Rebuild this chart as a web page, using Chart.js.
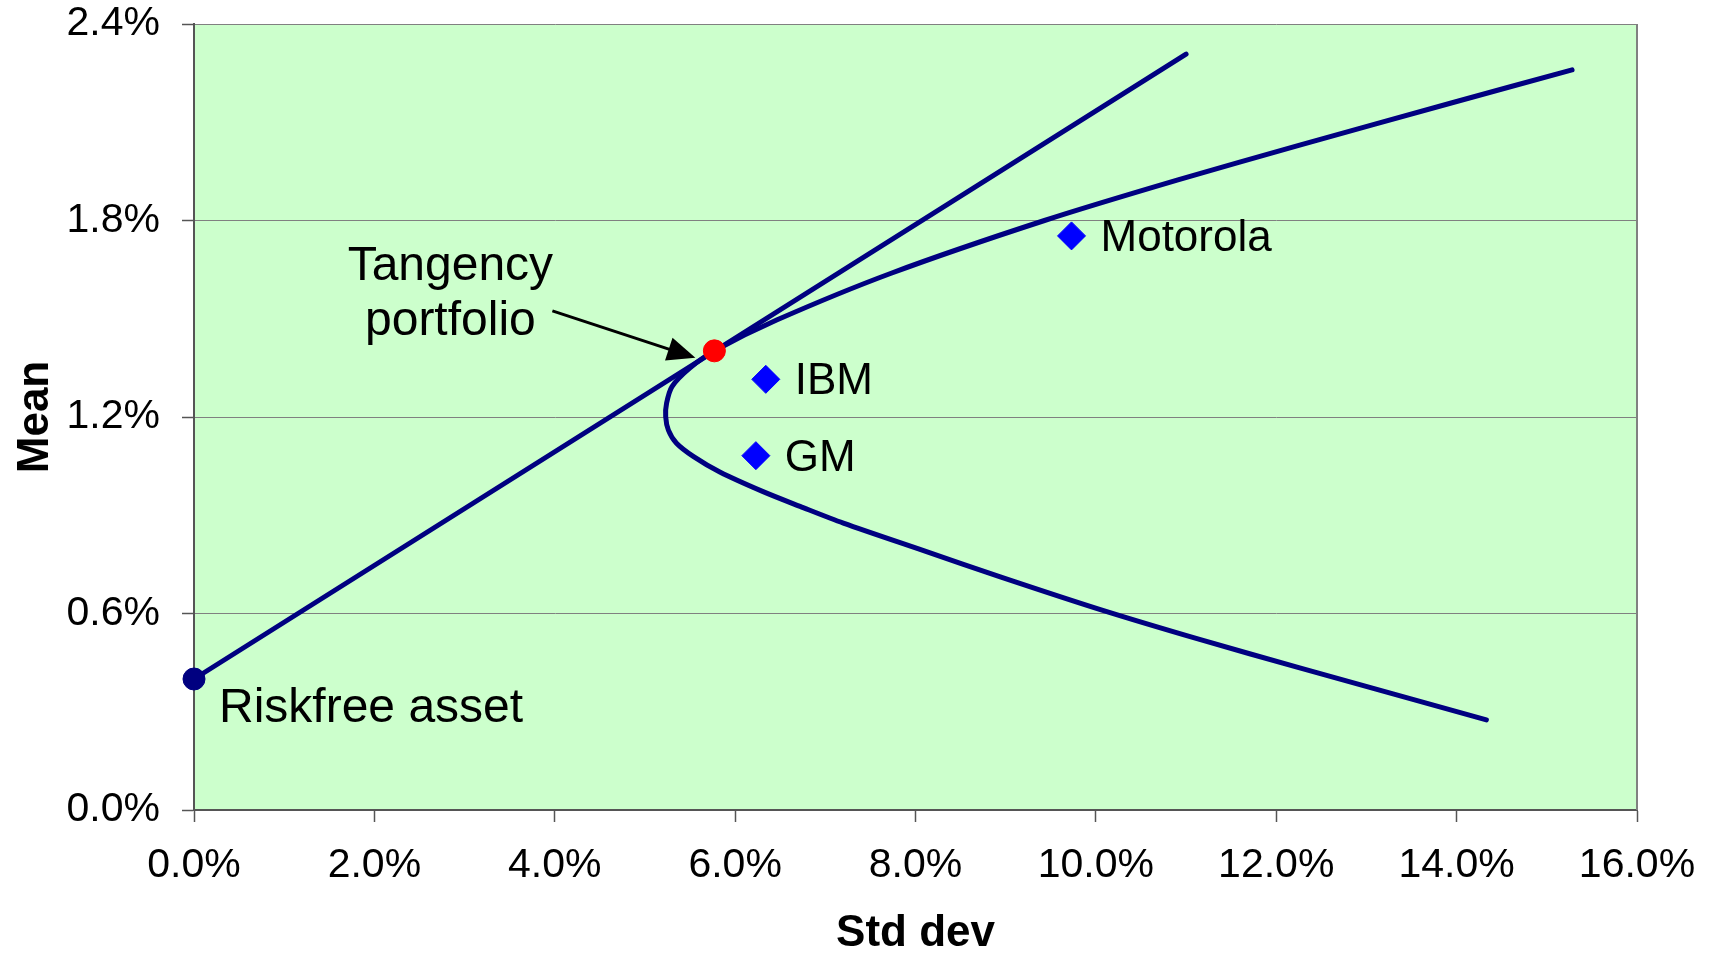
<!DOCTYPE html>
<html>
<head>
<meta charset="utf-8">
<script src="https://cdn.jsdelivr.net/npm/chart.js@4"></script>
<style>
  html, body { margin: 0; padding: 0; background: #ffffff; }
  #wrap { width: 1711px; height: 956px; }
</style>
</head>
<body>
<div id="wrap"><canvas id="chart" width="1711" height="956"></canvas></div>
<script>
// frontier of risky portfolios (std dev %, mean %), lower end -> upper end
const frontierStd  = [14.33, 12.26, 11.15, 10.05, 8.94, 8.09, 7.20, 6.72, 6.31, 5.83, 5.54, 5.35, 5.26, 5.23, 5.24, 5.30, 5.50, 5.77, 6.46, 7.73, 9.43, 10.91, 12.26, 13.93, 15.28];
const frontierMean = [0.275, 0.434, 0.521, 0.612, 0.712, 0.792, 0.876, 0.927, 0.972, 1.032, 1.079, 1.120, 1.160, 1.201, 1.242, 1.293, 1.350, 1.402, 1.496, 1.639, 1.800, 1.924, 2.030, 2.158, 2.260];

// capital market line
const cmlStd  = [0, 11.0];
const cmlMean = [0.4, 2.308];

// individual stocks
const stockNames = ['Motorola', 'IBM', 'GM'];
const stockStd   = [9.73, 6.34, 6.23];
const stockMean  = [1.753, 1.315, 1.082];

const riskfree  = { std: 0, mean: 0.4 };
const tangency  = { std: 5.77, mean: 1.402 };

const xTicks = [0, 2, 4, 6, 8, 10, 12, 14, 16];
const yTicks = [0, 0.6, 1.2, 1.8, 2.4];

const FONT = "'Liberation Sans', Arial, sans-serif";
const NAVY = '#000080';

const toPoints = (xs, ys) => xs.map((x, i) => ({ x: x, y: ys[i] }));

// green plot area + right border
const plotBg = {
    id: 'plotBg',
    beforeDraw(chart) {
        const { ctx, chartArea: a } = chart;
        ctx.save();
        ctx.fillStyle = '#CCFFCC';
        ctx.fillRect(a.left, a.top, a.right - a.left, a.bottom - a.top);
        ctx.restore();
    },
    afterDraw(chart) {
        const { ctx, chartArea: a } = chart;
        ctx.save();
        ctx.strokeStyle = '#808080';
        ctx.lineWidth = 2;
        ctx.beginPath();
        ctx.moveTo(a.right, a.top);
        ctx.lineTo(a.right, a.bottom);
        ctx.stroke();
        ctx.restore();
    }
};

// text labels and the arrow
const notes = {
    id: 'notes',
    afterDatasetsDraw(chart) {
        const ctx = chart.ctx;
        ctx.save();
        ctx.fillStyle = '#000';
        ctx.textBaseline = 'alphabetic';

        // stock names
        ctx.font = '44px ' + FONT;
        ctx.textAlign = 'left';
        chart.getDatasetMeta(2).data.forEach((pt, i) => {
            ctx.fillText(stockNames[i], pt.x + 29, pt.y + 15);
        });

        // riskfree
        const rf = chart.getDatasetMeta(3).data[0];
        ctx.font = '48px ' + FONT;
        ctx.fillText('Riskfree asset', rf.x + 25, rf.y + 43);

        // tangency
        const tp = chart.getDatasetMeta(4).data[0];
        ctx.font = '48px ' + FONT;
        ctx.textAlign = 'center';
        ctx.fillText('Tangency', tp.x - 264, tp.y - 71);
        ctx.fillText('portfolio', tp.x - 264, tp.y - 16);

        // arrow
        const x0 = tp.x - 162, y0 = tp.y - 40;
        const x1 = tp.x - 19, y1 = tp.y + 7;
        const ang = Math.atan2(y1 - y0, x1 - x0);
        const hl = 28, hw = 12;
        ctx.strokeStyle = '#000';
        ctx.lineWidth = 3;
        ctx.beginPath();
        ctx.moveTo(x0, y0);
        ctx.lineTo(x1 - Math.cos(ang) * hl * 0.8, y1 - Math.sin(ang) * hl * 0.8);
        ctx.stroke();
        ctx.beginPath();
        ctx.moveTo(x1, y1);
        ctx.lineTo(x1 - Math.cos(ang) * hl - Math.sin(ang) * hw, y1 - Math.sin(ang) * hl + Math.cos(ang) * hw);
        ctx.lineTo(x1 - Math.cos(ang) * hl + Math.sin(ang) * hw, y1 - Math.sin(ang) * hl - Math.cos(ang) * hw);
        ctx.closePath();
        ctx.fill();
        ctx.restore();
    }
};

new Chart(document.getElementById('chart'), {
    type: 'scatter',
    data: {
        datasets: [
            {
                data: toPoints(frontierStd, frontierMean),
                showLine: true,
                borderColor: NAVY,
                borderWidth: 5,
                borderCapStyle: 'round',
                tension: 0.3,
                pointRadius: 0,
                order: 5
            },
            {
                data: toPoints(cmlStd, cmlMean),
                showLine: true,
                borderColor: NAVY,
                borderWidth: 5,
                borderCapStyle: 'round',
                pointRadius: 0,
                order: 4
            },
            {
                data: toPoints(stockStd, stockMean),
                pointStyle: 'rectRot',
                pointRadius: 14,
                backgroundColor: '#0000FF',
                borderColor: '#0000FF',
                borderWidth: 1,
                order: 3
            },
            {
                data: [{ x: riskfree.std, y: riskfree.mean }],
                pointRadius: 11,
                backgroundColor: NAVY,
                borderColor: NAVY,
                order: 2
            },
            {
                data: [{ x: tangency.std, y: tangency.mean }],
                pointRadius: 11,
                backgroundColor: '#FF0000',
                borderColor: '#FF0000',
                order: 1
            }
        ]
    },
    options: {
        responsive: false,
        animation: false,
        clip: false,
        layout: { padding: { top: 24, right: 74, left: 0, bottom: 0 } },
        plugins: {
            legend: { display: false },
            tooltip: { enabled: false }
        },
        scales: {
            x: {
                type: 'linear',
                min: 0,
                max: 16,
                afterBuildTicks: s => { s.ticks = xTicks.map(v => ({ value: v })); },
                afterFit: s => { s.height = 146; s.paddingLeft = 0; s.paddingRight = 0; },
                grid: { drawOnChartArea: false, drawTicks: true, tickLength: 12, tickColor: '#555', tickWidth: 1.5 },
                border: { color: '#555', width: 2 },
                ticks: {
                    color: '#000',
                    font: { family: FONT, size: 41 },
                    padding: 19,
                    maxRotation: 0,
                    callback: v => v.toFixed(1) + '%'
                },
                title: {
                    display: true,
                    text: 'Std dev',
                    color: '#000',
                    font: { family: FONT, size: 44, weight: 'bold', lineHeight: 1 },
                    padding: 0
                }
            },
            y: {
                type: 'linear',
                min: 0,
                max: 2.4,
                afterBuildTicks: s => { s.ticks = yTicks.map(v => ({ value: v })); },
                afterFit: s => { s.width = 194; s.paddingTop = 0; s.paddingBottom = 0; },
                grid: { color: '#808080', lineWidth: 1, drawTicks: true, tickLength: 12, tickColor: '#555', tickWidth: 1.5 },
                border: { color: '#555', width: 2 },
                ticks: {
                    color: '#000',
                    font: { family: FONT, size: 41 },
                    padding: 22,
                    callback: v => v.toFixed(1) + '%'
                },
                title: {
                    display: true,
                    text: 'Mean',
                    color: '#000',
                    font: { family: FONT, size: 44, weight: 'bold', lineHeight: 1 },
                    padding: { top: 14, bottom: 0 }
                }
            }
        }
    },
    plugins: [plotBg, notes]
});
</script>
</body>
</html>
